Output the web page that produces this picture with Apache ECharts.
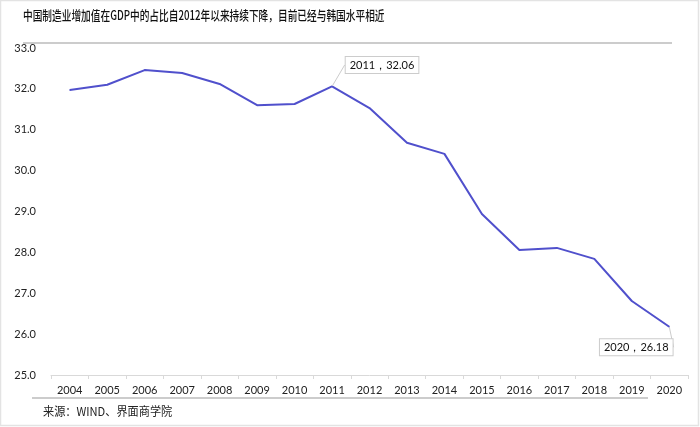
<!DOCTYPE html>
<html><head><meta charset="utf-8">
<script src="https://cdn.jsdelivr.net/npm/echarts@6/dist/echarts.min.js"></script>
<style>html,body{margin:0;padding:0;background:#fff}#c{width:700px;height:427px}</style>
</head><body><div id="c"></div>
<script>
const titleText = '中国制造业增加值在GDP中的占比自2012年以来持续下降，目前已经与韩国水平相近';
const sourceText = '来源：WIND、界面商学院';
const years = ['2004','2005','2006','2007','2008','2009','2010','2011','2012','2013','2014','2015','2016','2017','2018','2019','2020'];
const shares = [31.97,32.10,32.46,32.39,32.12,31.60,31.63,32.06,31.53,30.68,30.41,28.94,28.06,28.11,27.84,26.81,26.18];
const yTicks = [25,26,27,28,29,30,31,32,33];
const labeled = ['2011','2020'];

const numFont = 'Lato, "Noto Sans", sans-serif';
const cjkFont = '"Noto Sans CJK SC", sans-serif';
const chart = echarts.init(document.getElementById('c'));
chart.setOption({
  animation:false,
  backgroundColor:'#fff',
  graphic:[
    {type:'rect',shape:{x:0.5,y:0.5,width:698,height:425},style:{fill:'none',stroke:'#e3e3e3',lineWidth:1.5}},
    {type:'line',shape:{x1:23,y1:43,x2:672,y2:43},style:{stroke:'#cccccc',lineWidth:2}},
    {type:'line',shape:{x1:32,y1:398,x2:648,y2:398},style:{stroke:'#cccccc',lineWidth:2}},
    {type:'text',x:23,y:9,scaleX:0.745,style:{text:titleText,font:'500 13px '+cjkFont,fill:'#111'}},
    {type:'text',x:43,y:405,scaleX:0.93,style:{text:sourceText,font:'12px '+cjkFont,fill:'#222'}}
  ],
  grid:{left:51,right:12,top:48,bottom:52},
  xAxis:{type:'category',data:years,boundaryGap:true,
    axisLine:{lineStyle:{color:'#d9d9d9'}},
    axisTick:{show:true,lineStyle:{color:'#d9d9d9'},length:4},
    axisLabel:{color:'#222',fontFamily:numFont,fontSize:11,margin:10,interval:0}},
  yAxis:{type:'value',min:yTicks[0],max:yTicks[yTicks.length-1],interval:1,
    axisLine:{show:false},axisTick:{show:false},splitLine:{show:false},
    axisLabel:{color:'#222',fontFamily:numFont,fontSize:11,margin:15,formatter:v=>v.toFixed(1)}},
  series:[{type:'line',data:shares.map((v,i)=>{
      const item={value:v};
      if(labeled.includes(years[i])){
        item.label={show:true,formatter:years[i]+'，'+v.toFixed(2)};
      }
      return item;
    }),
    symbol:'circle',symbolSize:1,showSymbol:true,
    itemStyle:{color:'#5050cc'},
    lineStyle:{color:'#5050cc',width:2},
    label:{show:false,position:'top',fontFamily:numFont,fontSize:11,color:'#111',
      backgroundColor:'#fff',borderColor:'#cccccc',borderWidth:1,padding:[3,4,2,4]},
    labelLine:{show:true,lineStyle:{color:'#cccccc',width:1}},
    labelLayout:function(p){
      const yr=years[p.dataIndex];
      if(yr==='2011') return {dx:50,dy:-8};
      if(yr==='2020') return {dx:-33,dy:34};
      return {};
    }
  }]
});
</script></body></html>
